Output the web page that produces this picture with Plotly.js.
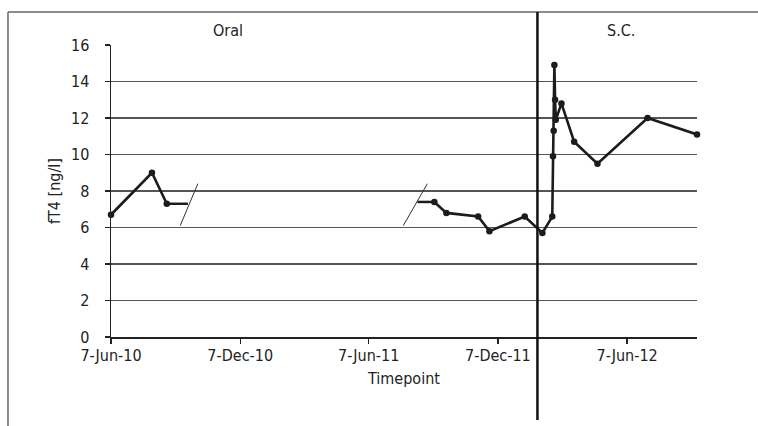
<!DOCTYPE html>
<html>
<head>
<meta charset="utf-8">
<script src="https://cdn.plot.ly/plotly-3.0.1.min.js"></script>
<style>
  html, body { margin: 0; padding: 0; background: #fff; }
  #chart { width: 758px; height: 426px; }
</style>
</head>
<body>
<div id="chart"></div>
<script>
// ---- data ----
const measuredDates = [
  '2010-06-07', '2010-08-04', '2010-08-25', null,
  '2011-09-08', '2011-09-25', '2011-11-09', '2011-11-25', '2012-01-14',
  '2012-02-08', '2012-02-22', '2012-02-23', '2012-02-24', '2012-02-25',
  '2012-02-26', '2012-02-27', '2012-03-06', '2012-03-24', '2012-04-26',
  '2012-07-06', '2012-09-14'
];
const fT4Values = [
  6.7, 9.0, 7.3, null,
  7.4, 6.8, 6.6, 5.8, 6.6,
  5.7, 6.6, 9.9, 11.3, 14.9,
  13.0, 11.9, 12.8, 10.7, 9.5,
  12.0, 11.1
];
// line stubs leading into / out of the axis break
const stubDates = ['2010-08-25', '2010-09-24', null, '2011-08-15', '2011-09-08'];
const stubValues = [7.3, 7.3, null, 7.4, 7.4];
// break marks (slashes)
const breakDates = ['2010-09-13', '2010-10-08', null, '2011-07-26', '2011-08-29'];
const breakValues = [6.1, 8.4, null, 6.1, 8.4];
// switch from oral to s.c. therapy
const switchDate = '2012-02-01';
const phaseLabels = ['Oral', 'S.C.'];
const tickDates = ['2010-06-07', '2010-12-07', '2011-06-07', '2011-12-07', '2012-06-07'];
const tickLabels = ['7-Jun-10', '7-Dec-10', '7-Jun-11', '7-Dec-11', '7-Jun-12'];
const xRange = ['2010-06-07', '2012-09-14'];
const yTicks = [0, 2, 4, 6, 8, 10, 12, 14, 16];

// ---- chart ----
const FONT = '"Liberation Sans Narrow", "DejaVu Sans Condensed", "Arial Narrow", sans-serif';
const INK = '#1c1c1c';
const FS = 16;

const traces = [
  {
    x: stubDates, y: stubValues, type: 'scatter', mode: 'lines',
    line: { color: INK, width: 2.5 }, connectgaps: false, hoverinfo: 'skip'
  },
  {
    x: breakDates, y: breakValues, type: 'scatter', mode: 'lines',
    line: { color: '#333', width: 1 }, connectgaps: false, hoverinfo: 'skip'
  },
  {
    x: measuredDates, y: fT4Values, type: 'scatter', mode: 'lines+markers',
    line: { color: INK, width: 2.6 },
    marker: { color: INK, size: 6.5, symbol: 'circle' },
    connectgaps: false, cliponaxis: false
  }
];

const layout = {
  width: 758, height: 426,
  margin: { l: 111, r: 61, t: 45, b: 89 },
  paper_bgcolor: '#fff', plot_bgcolor: '#fff',
  showlegend: false,
  font: { family: FONT, size: FS, color: '#222' },
  xaxis: {
    type: 'date', range: xRange,
    tickmode: 'array', tickvals: tickDates, ticktext: tickLabels,
    showgrid: false, zeroline: false,
    showline: true, linecolor: '#222', linewidth: 1.5,
    ticks: 'outside', ticklen: 5, tickcolor: '#222', tickwidth: 1.3,
    ticklabelstandoff: -2,
    tickfont: { family: FONT, size: FS, color: '#222' },
    title: { text: 'Timepoint', font: { family: FONT, size: FS, color: '#222' }, standoff: 9 }
  },
  yaxis: {
    range: [0, 16], tickmode: 'array', tickvals: yTicks,
    showgrid: true, gridcolor: '#555', gridwidth: 1.3,
    zeroline: false,
    showline: true, linecolor: '#222', linewidth: 1.5,
    ticks: 'outside', ticklen: 5, tickcolor: '#222', tickwidth: 1.3,
    ticklabelstandoff: 12,
    tickfont: { family: FONT, size: FS, color: '#222' },
    title: { text: 'fT4 [ng/l]', font: { family: FONT, size: FS, color: '#222' }, standoff: 6 }
  },
  shapes: [
    // outer frame (left and top edges)
    { type: 'line', xref: 'paper', yref: 'paper', x0: -0.1758, x1: -0.1758, y0: 1.113, y1: -0.40,
      line: { color: '#666', width: 1.5 } },
    { type: 'line', xref: 'paper', yref: 'paper', x0: -0.1758, x1: 1.12, y0: 1.113, y1: 1.113,
      line: { color: '#666', width: 1.5 } },
    // therapy switch line
    { type: 'line', xref: 'x', yref: 'paper', x0: switchDate, x1: switchDate, y0: -0.284, y1: 1.113,
      line: { color: '#111', width: 2.5 } }
  ],
  annotations: [
    { text: phaseLabels[0], xref: 'paper', yref: 'paper', x: 0.2, y: 1.048,
      showarrow: false, xanchor: 'center', yanchor: 'middle',
      font: { family: FONT, size: FS, color: '#222' } },
    { text: phaseLabels[1], xref: 'paper', yref: 'paper', x: 0.870, y: 1.048,
      showarrow: false, xanchor: 'center', yanchor: 'middle',
      font: { family: FONT, size: FS, color: '#222' } }
  ]
};

Plotly.newPlot('chart', traces, layout, { displayModeBar: false, staticPlot: true });
</script>
</body>
</html>
